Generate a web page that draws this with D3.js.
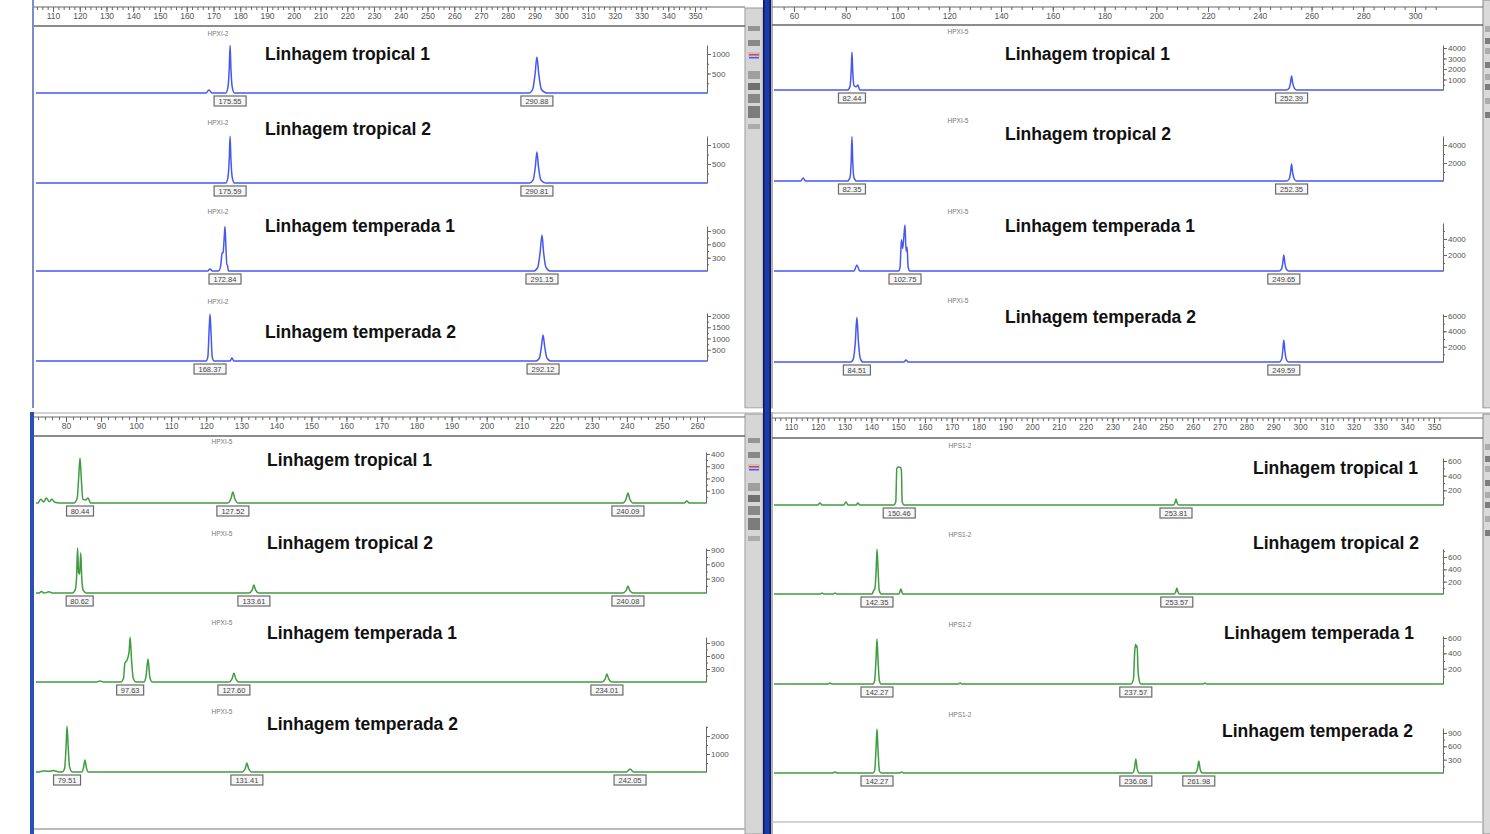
<!DOCTYPE html>
<html>
<head>
<meta charset="utf-8">
<script src="https://cdnjs.cloudflare.com/ajax/libs/d3/7.8.5/d3.min.js"></script>
<style>
  body { margin: 0; background: #fff; }
  svg { display: block; }
  .ruler text, .yaxis text { font-family: "Liberation Sans Narrow", "Liberation Sans", Arial, sans-serif; fill: #555; }
  .ruler line, .yaxis line, .yaxis path { stroke: #666; }
</style>
</head>
<body>
<div id="chart"></div>
<script>
// ---------- data ----------
var lineages = ["Linhagem tropical 1", "Linhagem tropical 2", "Linhagem temperada 1", "Linhagem temperada 2"];

// ruler (size in bp) tick labels of each screenshot
var tlRuler = [110, 120, 130, 140, 150, 160, 170, 180, 190, 200, 210, 220, 230, 240, 250, 260, 270, 280, 290, 300, 310, 320, 330, 340, 350];
var trRuler = [60, 80, 100, 120, 140, 160, 180, 200, 220, 240, 260, 280, 300];
var blRuler = [80, 90, 100, 110, 120, 130, 140, 150, 160, 170, 180, 190, 200, 210, 220, 230, 240, 250, 260];
var brRuler = [110, 120, 130, 140, 150, 160, 170, 180, 190, 200, 210, 220, 230, 240, 250, 260, 270, 280, 290, 300, 310, 320, 330, 340, 350];

// marker names printed above each trace
var tlMarker = "HPXI-2";
var trMarker = "HPXI-5";
var blMarker = "HPXI-5";
var brMarker = "HPS1-2";

// RFU axis: value at top of each trace axis, and labelled ticks
var tlYMax = [1230, 1237, 1012, 2133];
var trYMax = [4286, 5000, 6000, 6260];
var blYMax = [416, 942, 1038, 2555];
var brYMax = [641, 730, 626, 1012];

var tlYTicks = [[500, 1000], [500, 1000], [300, 600, 900], [500, 1000, 1500, 2000]];
var trYTicks = [[1000, 2000, 3000, 4000], [2000, 4000], [2000, 4000], [2000, 4000, 6000]];
var blYTicks = [[100, 200, 300, 400], [300, 600, 900], [300, 600, 900], [1000, 2000]];
var brYTicks = [[200, 400, 600], [200, 400, 600], [200, 400, 600], [300, 600, 900]];

// traces: [size bp, RFU] points (baseline between peaks is 0)
var tlTraces = [
  [[167.2, 0], [168.3, 80], [169.4, 0],
   [174.6, 0], [175.4, 150], [175.9, 650], [176.2, 1220], [176.5, 650], [177.0, 150], [177.8, 0],
   [287.9, 0], [289.3, 90], [290.2, 480], [290.9, 920], [291.6, 480], [292.6, 90], [294.6, 0]],
  [[174.6, 0], [175.4, 150], [175.9, 650], [176.2, 1230], [176.5, 650], [177.0, 150], [177.8, 0],
   [288.2, 0], [289.5, 80], [290.3, 420], [290.9, 815], [291.5, 420], [292.4, 80], [294.2, 0]],
  [[167.8, 0], [168.7, 45], [169.6, 0],
   [171.9, 0], [172.7, 120], [173.2, 400], [173.6, 420], [174.0, 750], [174.3, 1000], [174.6, 600], [175.0, 140], [175.2, 135], [175.6, 0],
   [289.8, 0], [291.2, 80], [292.1, 420], [292.8, 810], [293.4, 420], [294.3, 80], [295.8, 0]],
  [[167.2, 0], [167.9, 200], [168.3, 1200], [168.7, 2090], [169.1, 1200], [169.5, 200], [170.2, 0],
   [176.2, 0], [176.9, 130], [177.6, 0],
   [290.6, 0], [291.9, 150], [292.6, 650], [293.2, 1150], [293.8, 650], [294.6, 150], [296.0, 0]]
];
var trTraces = [
  [[80.6, 0], [81.6, 300], [82.1, 1800], [82.4, 3620], [82.7, 1800], [83.2, 400], [84.0, 300], [84.7, 480], [85.4, 0],
   [250.4, 0], [251.4, 200], [251.9, 700], [252.3, 1330], [252.7, 700], [253.3, 200], [254.2, 0]],
  [[62.6, 0], [63.5, 330], [64.5, 0],
   [80.6, 0], [81.6, 350], [82.1, 2200], [82.4, 4950], [82.7, 2200], [83.2, 350], [84.2, 0],
   [250.4, 0], [251.4, 250], [251.9, 950], [252.3, 1890], [252.7, 950], [253.3, 250], [254.2, 0]],
  [[83.2, 0], [84.3, 750], [85.4, 0],
   [100.4, 0], [101.0, 500], [101.5, 3900], [102.0, 2800], [102.5, 4500], [102.9, 5750], [103.3, 2500], [103.7, 3000], [104.1, 500], [104.8, 0],
   [247.5, 0], [248.5, 300], [248.9, 1000], [249.3, 2000], [249.7, 1000], [250.2, 300], [251.1, 0]],
  [[82.0, 0], [83.0, 500], [83.7, 2600], [84.3, 5850], [84.9, 2600], [85.6, 500], [86.6, 0],
   [102.5, 0], [103.3, 260], [104.1, 0],
   [247.5, 0], [248.5, 400], [248.9, 1500], [249.3, 2860], [249.7, 1500], [250.2, 400], [251.1, 0]]
];
var blTraces = [
  [[72.0, 0], [72.8, 30], [73.6, 8], [74.4, 40], [75.2, 12], [76.0, 30], [76.8, 6], [78.2, 0],
   [82.3, 0], [83.2, 40], [83.6, 200], [84.0, 367], [84.4, 180], [84.8, 30], [85.6, 25], [86.3, 40], [87.0, 0],
   [126.2, 0], [127.1, 40], [127.6, 90], [128.1, 40], [129.0, 0],
   [238.8, 0], [239.8, 35], [240.3, 82], [240.8, 35], [241.8, 0],
   [256.4, 0], [257.1, 16], [257.8, 0]],
  [[72.2, 0], [73.0, 30], [73.8, 0], [75.2, 25], [76.0, 0],
   [81.8, 0], [82.6, 60], [83.0, 300], [83.3, 940], [83.6, 420], [83.9, 400], [84.2, 840], [84.5, 300], [84.9, 60], [85.8, 0],
   [132.2, 0], [133.1, 60], [133.6, 167], [134.1, 60], [135.0, 0],
   [238.8, 0], [239.8, 55], [240.3, 146], [240.8, 55], [241.8, 0]],
  [[88.8, 0], [89.7, 25], [90.6, 0],
   [95.6, 0], [96.4, 80], [96.8, 440], [97.4, 500], [98.0, 700], [98.3, 1030], [98.7, 500], [99.2, 80], [100.0, 0],
   [102.2, 0], [102.8, 120], [103.4, 530], [103.9, 120], [104.6, 0],
   [126.5, 0], [127.4, 80], [127.9, 208], [128.4, 80], [129.3, 0],
   [232.9, 0], [233.8, 70], [234.3, 185], [234.8, 70], [235.7, 0]],
  [[72.0, 0], [73.5, 60], [75.0, 40], [76.5, 80], [78.0, 0],
   [78.9, 0], [79.6, 200], [80.0, 1300], [80.3, 2540], [80.6, 1500], [81.0, 300], [81.8, 0],
   [84.5, 0], [85.0, 250], [85.4, 666], [85.8, 250], [86.4, 0],
   [130.2, 0], [131.1, 180], [131.6, 500], [132.1, 180], [133.0, 0],
   [239.9, 0], [240.9, 166], [241.9, 0]]
];
var brTraces = [
  [[120.0, 0], [120.8, 27], [121.6, 0],
   [129.7, 0], [130.5, 41], [131.3, 0], [134.3, 0], [135.0, 27], [135.7, 0],
   [148.4, 0], [149.1, 40], [149.5, 500], [150.0, 517], [150.7, 515], [151.2, 480], [151.5, 40], [152.2, 0],
   [252.8, 0], [253.3, 30], [253.7, 82], [254.1, 30], [254.7, 0]],
  [[121.0, 0], [121.6, 16], [122.2, 0], [125.8, 0], [126.4, 16], [127.0, 0],
   [140.2, 0], [140.9, 60], [141.3, 90], [141.8, 400], [142.1, 725], [142.5, 400], [142.9, 60], [143.7, 0],
   [150.3, 0], [151.0, 81], [151.7, 0],
   [253.1, 0], [253.6, 35], [254.0, 97], [254.4, 35], [255.0, 0]],
  [[124.0, 0], [124.6, 13], [125.2, 0],
   [140.5, 0], [141.2, 40], [141.7, 300], [142.1, 587], [142.5, 300], [143.0, 40], [143.7, 0],
   [172.5, 0], [173.1, 13], [173.7, 0],
   [236.9, 0], [237.8, 60], [238.3, 420], [238.6, 520], [238.9, 480], [239.2, 500], [239.5, 200], [240.0, 40], [240.6, 0],
   [263.9, 0], [264.5, 13], [265.1, 0]],
  [[125.5, 0], [126.4, 22], [127.3, 0],
   [140.5, 0], [141.2, 45], [141.7, 500], [142.1, 990], [142.5, 500], [143.0, 45], [143.7, 0],
   [150.6, 0], [151.3, 22], [152.0, 0],
   [237.4, 0], [238.2, 100], [238.7, 315], [239.2, 100], [240.0, 0],
   [260.9, 0], [261.7, 90], [262.2, 270], [262.7, 90], [263.5, 0]]
];

// allele calls: [position on ruler, printed size]
var tlCalls = [
  [[176.2, "175.55"], [290.9, "290.88"]],
  [[176.2, "175.59"], [290.9, "290.81"]],
  [[174.3, "172.84"], [292.8, "291.15"]],
  [[168.7, "168.37"], [293.2, "292.12"]]
];
var trCalls = [
  [[82.4, "82.44"], [252.3, "252.39"]],
  [[82.4, "82.35"], [252.3, "252.35"]],
  [[102.9, "102.75"], [249.3, "249.65"]],
  [[84.3, "84.51"], [249.3, "249.59"]]
];
var blCalls = [
  [[84.0, "80.44"], [127.6, "127.52"], [240.3, "240.09"]],
  [[83.9, "80.62"], [133.6, "133.61"], [240.3, "240.08"]],
  [[98.3, "97.63"], [127.9, "127.60"], [234.3, "234.01"]],
  [[80.3, "79.51"], [131.6, "131.41"], [240.9, "242.05"]]
];
var brCalls = [
  [[150.4, "150.46"], [253.7, "253.81"]],
  [[142.1, "142.35"], [254.0, "253.57"]],
  [[142.1, "142.27"], [238.7, "237.57"]],
  [[142.1, "142.27"], [238.7, "236.08"], [262.2, "261.98"]]
];

// ---------- layout ----------
var svgWidth = 1490;
var svgHeight = 834;

var svg = d3.select("#chart")
  .append("svg")
  .attr("width", svgWidth)
  .attr("height", svgHeight);

var textWidths = [165, 166, 190, 191];

var panels = [
  { color: "#4658ee", ruler: tlRuler, minor: 2, calib: [110, 53, 350, 695], left: 34, right: 745,
    x0: 36, x1: 707, rulerTop: 7, rulerBottom: 26,
    baselines: [93, 183, 271, 361], heights: [48, 47, 45, 48],
    textX: [265, 265, 265, 265], textY: [60, 135, 232, 338],
    markerX: 218, markerY: [36, 125, 214, 304], marker: tlMarker,
    traces: tlTraces, calls: tlCalls, yTicks: tlYTicks, yMax: tlYMax },
  { color: "#4658ee", ruler: trRuler, minor: 4, calib: [60, 794, 300, 1415], left: 772, right: 1483,
    x0: 774, x1: 1443, rulerTop: 7, rulerBottom: 25,
    baselines: [90, 181, 271, 362], heights: [45, 45, 48, 48],
    textX: [1005, 1005, 1005, 1005], textY: [60, 140, 232, 323],
    markerX: 958, markerY: [34, 123, 214, 303], marker: trMarker,
    traces: trTraces, calls: trCalls, yTicks: trYTicks, yMax: trYMax },
  { color: "#3f9c3f", ruler: blRuler, minor: 2, calib: [80, 66, 260, 697], left: 34, right: 745,
    x0: 36, x1: 706, rulerTop: 417, rulerBottom: 436,
    baselines: [503, 593, 682, 772], heights: [51, 45, 45, 46],
    textX: [267, 267, 267, 267], textY: [466, 549, 639, 730],
    markerX: 222, markerY: [444, 536, 625, 714], marker: blMarker,
    traces: blTraces, calls: blCalls, yTicks: blYTicks, yMax: blYMax },
  { color: "#3f9c3f", ruler: brRuler, minor: 2, calib: [110, 791, 350, 1434], left: 772, right: 1483,
    x0: 774, x1: 1443, rulerTop: 418, rulerBottom: 438,
    baselines: [505, 594, 684, 773], heights: [47, 45, 48, 45],
    textX: [1253, 1253, 1224, 1222], textY: [474, 549, 639, 737],
    markerX: 960, markerY: [448, 537, 627, 717], marker: brMarker,
    traces: brTraces, calls: brCalls, yTicks: brYTicks, yMax: brYMax }
];

// ---------- window chrome ----------
// left toolbars of the two left screenshots
[[8, 408], [414, 834]].forEach(function(r, k) {
  var tb = svg.append("g");
  tb.append("rect").attr("x", 745).attr("y", r[0]).attr("width", 18).attr("height", r[1] - r[0])
    .attr("fill", "#d6d6d6").attr("stroke", "#9a9a9a");
  var top = r[0] + (k === 0 ? 18 : 24);
  var icons = [[0, 5, "#777"], [14, 6, "#666"], [26, 5, "#bbb"], [45, 8, "#888"], [57, 7, "#444"], [68, 9, "#666"], [80, 12, "#555"], [98, 5, "#999"]];
  icons.forEach(function(ic) {
    tb.append("rect").attr("x", 748).attr("y", top + ic[0]).attr("width", 12).attr("height", ic[1])
      .attr("fill", ic[2]).attr("opacity", 0.7);
  });
  tb.append("rect").attr("x", 749).attr("y", top + 28).attr("width", 10).attr("height", 1.5).attr("fill", "#d44");
  tb.append("rect").attr("x", 749).attr("y", top + 31).attr("width", 10).attr("height", 1.5).attr("fill", "#55f");
});

// right-hand strips of the two right screenshots
[[0, 408], [414, 834]].forEach(function(r, k) {
  var st = svg.append("g");
  st.append("rect").attr("x", 1483).attr("y", r[0]).attr("width", 8).attr("height", r[1] - r[0])
    .attr("fill", "#dadada").attr("stroke", "#8a8a8a");
  var top = r[0] + (k === 0 ? 26 : 30);
  [0, 12, 22, 36, 48, 58, 72, 86].forEach(function(o, j) {
    st.append("rect").attr("x", 1485).attr("y", top + o).attr("width", 5).attr("height", 6)
      .attr("fill", j % 2 ? "#555" : "#999").attr("opacity", 0.7);
  });
});

// blue divider between the screenshots
svg.append("rect").attr("x", 763).attr("y", 0).attr("width", 8).attr("height", svgHeight).attr("fill", "#1d3aa6");
svg.append("rect").attr("x", 763).attr("y", 0).attr("width", 1.5).attr("height", svgHeight).attr("fill", "#0b1a66");
svg.append("rect").attr("x", 769.5).attr("y", 0).attr("width", 1.5).attr("height", svgHeight).attr("fill", "#0b1a66");
svg.append("line").attr("x1", 772).attr("x2", 772).attr("y1", 0).attr("y2", svgHeight).attr("stroke", "#999").attr("stroke-width", 1.5);

// left borders
svg.append("line").attr("x1", 33).attr("x2", 33).attr("y1", 0).attr("y2", 408).attr("stroke", "#7d8cc8").attr("stroke-width", 2);
svg.append("rect").attr("x", 30).attr("y", 412).attr("width", 4).attr("height", 422).attr("fill", "#2c4db6");

// bottom edges
svg.append("line").attr("x1", 34).attr("x2", 745).attr("y1", 829).attr("y2", 829).attr("stroke", "#bbb").attr("stroke-width", 2);
svg.append("line").attr("x1", 772).attr("x2", 1483).attr("y1", 822).attr("y2", 822).attr("stroke", "#c4c4c4").attr("stroke-width", 1.5);

// ---------- panels ----------
function drawPanel(p) {
  var g = svg.append("g");

  var x = d3.scaleLinear()
    .domain([p.calib[0], p.calib[2]])
    .range([p.calib[1], p.calib[3]]);

  // ruler at the top of the screenshot
  var ruler = g.append("g").attr("class", "ruler");
  ruler.append("line").attr("x1", p.left).attr("x2", p.right)
    .attr("y1", p.rulerTop).attr("y2", p.rulerTop).attr("stroke", "#777");
  ruler.append("line").attr("x1", p.left).attr("x2", p.right)
    .attr("y1", p.rulerBottom).attr("y2", p.rulerBottom).attr("stroke", "#999").attr("stroke-width", 1.5);

  var lo = x.invert(p.x0), hi = x.invert(p.x1);
  var minorVals = d3.range(Math.ceil(lo / p.minor) * p.minor, hi, p.minor);

  ruler.append("g")
    .attr("transform", `translate(0, ${p.rulerTop})`)
    .call(d3.axisBottom(x).tickValues(minorVals).tickSize(3).tickFormat(""))
    .call(a => a.select(".domain").remove());

  ruler.append("g")
    .attr("transform", `translate(0, ${p.rulerTop})`)
    .call(d3.axisBottom(x).tickValues(p.ruler).tickSize(5).tickPadding(1))
    .call(a => a.select(".domain").remove())
    .selectAll("text").attr("font-size", "8.5px");

  p.traces.forEach(function(trace, i) {
    var base = p.baselines[i];
    var y = d3.scaleLinear()
      .domain([0, p.yMax[i]])
      .range([base, base - p.heights[i]]);

    var pts = [[lo, 0]].concat(trace).concat([[hi, 0]]);
    var line = d3.line()
      .x(d => x(d[0]))
      .y(d => y(d[1]))
      .curve(d3.curveMonotoneX);

    g.append("path")
      .datum(pts)
      .attr("d", line)
      .attr("fill", "none")
      .attr("stroke", p.color)
      .attr("stroke-width", 1.5)
      .attr("stroke-linejoin", "round");

    // RFU axis on the right
    var step = p.yTicks[i][1] ? p.yTicks[i][1] - p.yTicks[i][0] : p.yTicks[i][0];
    var minorY = d3.range(step / 2, p.yMax[i], step / 2);
    var ya = g.append("g").attr("class", "yaxis").attr("transform", `translate(${p.x1}, 0)`);
    ya.call(d3.axisRight(y).tickValues(minorY).tickSize(2).tickSizeOuter(0).tickFormat(""));
    ya.append("g")
      .call(d3.axisRight(y).tickValues(p.yTicks[i]).tickSize(4).tickSizeOuter(0).tickPadding(1).tickFormat(d3.format("d")))
      .call(a => a.select(".domain").remove())
      .selectAll("text").attr("font-size", "8px");

    // allele call boxes
    p.calls[i].forEach(function(c) {
      var w = c[1].length * 5 + 2;
      var cx = x(c[0]);
      g.append("rect")
        .attr("x", cx - w / 2).attr("y", base + 3)
        .attr("width", w).attr("height", 10)
        .attr("fill", "#f7f7f7").attr("stroke", "#6a6a6a").attr("stroke-width", 1.2);
      g.append("text")
        .attr("x", cx).attr("y", base + 11)
        .attr("text-anchor", "middle")
        .attr("font-family", "Liberation Sans Narrow, Liberation Sans, Arial, sans-serif")
        .attr("font-size", "7.5px")
        .attr("fill", "#444")
        .text(c[1]);
    });

    // marker name
    g.append("text")
      .attr("x", p.markerX).attr("y", p.markerY[i])
      .attr("text-anchor", "middle")
      .attr("font-family", "Liberation Sans Narrow, Liberation Sans, Arial, sans-serif")
      .attr("font-size", "6.5px")
      .attr("fill", "#777")
      .text(p.marker);

    // lineage label
    g.append("text")
      .attr("x", p.textX[i]).attr("y", p.textY[i])
      .attr("font-family", "Liberation Sans Narrow, Arial Narrow, Liberation Sans, Arial, sans-serif")
      .attr("font-size", "18px")
      .attr("font-weight", "bold")
      .attr("fill", "#111")
      .attr("textLength", textWidths[i])
      .attr("lengthAdjust", "spacingAndGlyphs")
      .text(lineages[i]);
  });
}

panels.forEach(drawPanel);

// white seam between top and bottom screenshots
svg.append("rect").attr("x", 30).attr("y", 408.5).attr("width", 733).attr("height", 3.5).attr("fill", "#fff");
svg.append("rect").attr("x", 771).attr("y", 408.5).attr("width", 719).attr("height", 3.5).attr("fill", "#fff");
svg.append("line").attr("x1", 34).attr("x2", 763).attr("y1", 413).attr("y2", 413).attr("stroke", "#aaa");
svg.append("line").attr("x1", 772).attr("x2", 1490).attr("y1", 413).attr("y2", 413).attr("stroke", "#aaa");
</script>
</body>
</html>
